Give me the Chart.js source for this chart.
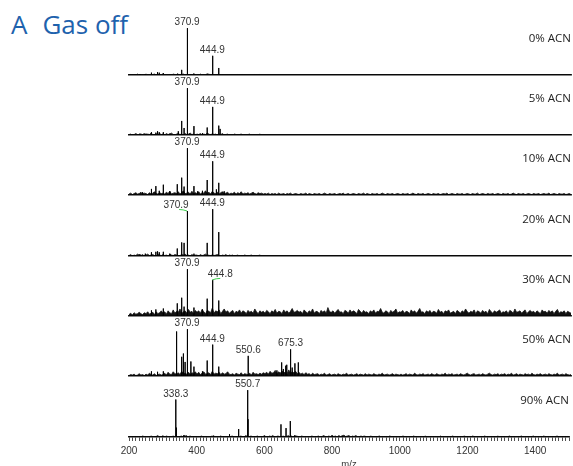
<!DOCTYPE html>
<html><head><meta charset="utf-8">
<script src="https://cdn.jsdelivr.net/npm/chart.js@4.4.1/dist/chart.umd.min.js"></script>
<style>
html,body{margin:0;padding:0;background:#fff;width:573px;height:466px;overflow:hidden;}
#wrap{position:relative;width:573px;height:466px;overflow:hidden;}
#title{position:absolute;left:11px;top:11px;font-family:"Open Sans",sans-serif;font-size:26px;line-height:26px;color:#1e62ad;white-space:nowrap;}
#title .g{margin-left:15px;}
canvas.pc{position:absolute;left:100px;}
</style></head><body>
<div id="wrap">
<div id="title"><span>A</span><span class="g">Gas off</span></div>
</div>
<script>
// ---------- DATA ----------
const panelNames = ["0% ACN", "5% ACN", "10% ACN", "20% ACN", "30% ACN", "50% ACN", "90% ACN"];

// peak m/z and relative intensity (% of panel maximum)
const mz0 = [232, 248, 266, 284, 289, 301, 343, 355, 370.9, 372.5, 391, 430, 444.9, 447, 464];
const int0 = [2, 2, 5, 6, 5, 4, 3, 11, 100, 33, 3, 3, 41, 17, 15];

const mz1 = [232, 250, 266, 279, 284, 289, 301, 320, 345, 355, 362, 370.9, 372.5, 391, 416, 430, 444.9, 447, 464, 468];
const int1 = [3, 3, 6, 5, 8, 6, 6, 3, 8, 30, 15, 100, 37, 19, 4, 16, 60, 24, 20, 13];

const mz2 = [240, 266, 279, 289, 301, 320, 342, 355, 362, 370.9, 372.5, 391, 402, 416, 430, 444.9, 447, 457, 464, 480];
const int2 = [6, 13, 19, 9, 22, 8, 23, 37, 18, 100, 30, 19, 8, 9, 32, 72, 35, 12, 26, 8];

const mz3 = [232, 248, 266, 279, 284, 289, 301, 320, 342, 355, 362, 370.9, 372.5, 391, 430, 444.9, 447, 464];
const int3 = [4, 5, 8, 9, 10, 8, 9, 5, 16, 29, 28, 96, 32, 5, 28, 100, 46, 51];

const mz4 = [266, 279, 301, 342, 355, 362, 370.9, 372.5, 391, 416, 430, 444.8, 447, 464];
const int4 = [12, 14, 16, 27, 39, 20, 100, 41, 18, 14, 37, 77, 34, 33];

const mz5 = [266, 284, 301, 340, 355, 360, 365, 370.9, 372.5, 382, 391, 416, 430, 444.9, 447, 464, 550.6, 635, 649, 654, 661, 664, 675.3, 680, 688, 698];
const int5 = [10, 9, 10, 95, 41, 48, 30, 100, 31, 31, 20, 10, 33, 67, 25, 20, 43, 12, 29, 15, 22, 24, 57, 18, 27, 29];

const mz6 = [280, 300, 338.3, 340, 362, 370, 450, 497, 524, 550.7, 551.7, 600, 649, 664, 676, 677, 690, 800, 830];
const int6 = [2, 3, 80, 20, 4, 3, 3, 6, 17, 100, 38, 3, 27, 19, 34, 18, 4, 3, 3];

// baseline "grass" (% intensity), sampled every noiseStep m/z from noiseStart
const noiseStart = 200, noiseStep = 5;
const noise0 = [0,1,0,1,0,2,0,1,1,0, 2,0,1,0,1,2,0,1,0,1,
  2,0,1,0,1,0,2,1,0,1, 0,1,2,0,1,0,1,0,2,0,
  1,0,2,0,1,0,1,2,0,1, 0,1,0,1,0,1,0,0,1,0,
  0,1,0,0,1,0,0,1,0,0, 1,0,0,0,1,0,0,1,0,0, 0];
const noise1 = [1,2,0,1,3,1,0,2,1,3, 0,2,1,4,1,0,2,1,3,1,
  2,0,3,1,2,4,1,0,2,3, 1,2,0,3,1,2,4,1,2,0,
  2,1,3,0,2,1,4,2,0,3, 1,2,0,2,1,3,0,1,2,0,
  1,0,2,1,0,1,2,0,1,0, 1,2,0,1,0,1,0,2,0,1, 0];
const noise2 = [2,4,1,3,5,2,3,6,2,4, 3,1,5,2,4,7,3,2,5,3,
  4,2,6,3,8,2,4,5,3,7, 2,5,9,3,4,6,2,8,3,5,
  3,7,2,5,4,9,3,6,2,8, 4,3,6,2,5,7,3,4,6,2,
  4,3,6,2,5,3,7,2,4,3, 5,2,4,6,3,2,5,3,4,2,
  3,2,4,1,3,2,3,1,4,2, 2,3,1,3,2,4,1,2,3,2,
  1,3,2,2,4,1,3,2,1,3, 2,2,3,1,2,4,2,1,3,2,
  2,3,1,2,3,2,4,1,2,3, 1,2,3,2,1,3,2,2,4,1,
  3,2,1,3,2,2,3,1,2,4, 2,1,3,2,2,3,1,2,3,2,
  1,3,2,2,3,1,2,4,2,1, 3,2,2,3,1,2,3,2,1,3,
  2,2,3,1,2,3,2,4,1,2, 3,2,1,3,2,2,3,1,2,3,
  2,1,3,2,2,4,1,2,3,2, 1,3,2,2,3,1,2,3,2,1,
  3,2,2,3,1,2,4,2,1,3, 2,2,3,1,2,3,2,1,3,2,
  2,3,1,2,3,2,2,4,1,2, 3,2,1,3,2,2,3,1,2,3, 1];
const noise3 = [1,3,0,2,1,4,2,1,3,0, 2,4,1,2,3,1,0,3,2,1,
  3,1,2,0,4,2,1,3,2,0, 1,3,2,4,1,2,0,3,1,2,
  2,0,3,1,2,4,1,2,0,3, 1,2,3,1,0,2,1,3,0,2,
  1,2,0,1,2,0,1,0,2,1, 0,1,2,0,1,0,1,2,0,1, 0];
const noise4 = [3,6,2,7,4,5,8,5,3,7, 5,9,4,6,8,3,9,5,7,11,
  6,9,4,11,7,5,13,6,10,8, 15,5,9,11,6,14,8,10,5,12,
  8,11,6,14,9,5,12,10,7,17, 6,11,9,13,5,10,15,8,11,6,
  9,12,5,10,8,13,6,11,9,5, 12,8,10,6,15,9,5,11,8,10,
  6,12,9,5,11,8,14,6,10,9, 5,13,8,11,6,10,16,8,9,12,
  8,10,5,13,9,6,11,8,15,6, 10,9,5,12,8,11,6,18,9,8,
  11,6,10,14,8,9,5,12,10,6, 13,8,11,9,5,14,10,6,12,8,
  9,5,11,8,13,6,10,9,16,8, 6,11,9,5,12,8,10,15,6,9,
  8,12,6,10,9,5,13,8,11,6, 10,16,8,9,5,11,8,12,6,10,
  9,6,14,8,10,5,11,9,13,6, 8,10,5,12,9,6,11,8,15,9,
  6,10,8,13,5,11,9,6,12,8, 10,5,14,9,6,11,8,10,13,6,
  9,8,11,5,12,10,6,15,8,9, 11,6,10,13,5,9,12,8,10,6,
  11,8,5,13,9,10,6,12,8,11, 5,10,14,6,9,8,11,5,10,8, 6];
const noise5 = [1,3,2,4,1,2,5,2,3,1, 4,2,6,3,2,5,1,3,4,2,
  3,6,2,8,4,3,9,5,4,7, 3,10,5,6,4,8,3,7,5,9,
  4,8,3,6,9,4,5,7,3,10, 4,6,5,8,3,7,4,5,9,4,
  3,5,2,6,4,3,7,2,5,4, 3,6,2,8,4,5,3,6,4,7,
  5,8,4,10,6,7,12,5,9,6, 11,7,8,5,13,6,9,7,10,5,
  8,4,6,3,7,4,5,2,6,3, 4,5,2,4,3,6,2,3,5,2,
  3,4,2,5,3,2,4,3,6,2, 3,4,2,3,5,2,4,3,2,5,
  2,4,3,2,5,3,2,4,3,6, 2,3,4,2,3,5,2,4,3,2,
  4,2,3,5,2,4,3,2,6,3, 2,4,3,5,2,3,4,2,5,3,
  2,5,3,2,4,3,6,2,4,3, 5,2,3,4,2,5,3,2,4,6,
  3,2,4,5,2,3,4,2,5,3, 2,4,6,3,2,4,3,5,2,4,
  3,5,2,4,3,6,2,3,5,2, 4,3,2,5,3,4,2,6,3,2,
  4,3,5,2,3,4,2,5,3,2, 4,3,6,2,3,4,2,5,3,2, 3];
const noise6 = [0,1,0,1,0,1,1,0,2,1, 0,1,0,2,1,0,1,3,0,1,
  1,0,2,1,1,0,2,1,0,1, 1,2,0,3,1,0,2,1,1,0,
  1,0,1,2,0,1,0,1,0,2, 1,0,1,0,2,1,0,1,1,0,
  1,2,0,1,1,0,2,1,0,3, 1,0,2,1,0,1,2,0,1,1,
  2,1,0,2,1,3,0,1,2,1, 0,2,1,0,3,1,2,0,1,2,
  1,0,2,1,0,1,1,0,2,1, 0,1,2,0,1,3,1,0,2,1,
  3,1,2,0,3,1,2,4,1,2, 3,0,2,1,3,1,0,2,1,2,
  1,0,1,2,0,1,0,1,2,0, 1,0,1,0,2,1,0,1,0,1,
  0,1,2,0,1,0,1,0,2,1, 0,1,0,1,0,2,0,1,1,0,
  1,0,1,0,2,0,1,1,0,1, 0,2,1,0,1,0,1,0,2,1,
  0,1,0,2,1,0,1,0,1,0, 2,1,0,1,0,1,1,0,2,0,
  1,0,1,0,1,2,0,1,0,1, 0,1,2,0,1,0,1,0,1,2,
  0,1,0,1,0,2,1,0,1,0, 1,0,1,2,0,1,0,1,0,1, 0];

const labels0 = ["370.9", "444.9"];
const labels1 = ["370.9", "444.9"];
const labels2 = ["370.9", "444.9"];
const labels3 = ["370.9", "444.9"];
const labels4 = ["370.9", "444.8"];
const labels5 = ["370.9", "444.9", "550.6", "675.3"];
const labels6 = ["338.3", "550.7"];

const xMin = 200, xMax = 1500, xMinorStep = 10, xLabelStep = 200;
const axisTitle = "m/z";

// ---------- STYLE / LAYOUT ----------
const panelTops = [15, 75, 135, 196, 256, 316, 377];
const labelNudge = [{}, {}, {}, {"370.9": -11}, {"444.8": 8}, {}, {}];
const yTop = 128;

const panels = [
  [mz0, int0, noise0, labels0], [mz1, int1, noise1, labels1], [mz2, int2, noise2, labels2],
  [mz3, int3, noise3, labels3], [mz4, int4, noise4, labels4], [mz5, int5, noise5, labels5],
  [mz6, int6, noise6, labels6]
];

const wrap = document.getElementById('wrap');

panels.forEach(([mz, inten, noise, labels], i) => {
  const bottom = i === panels.length - 1;
  const h = bottom ? 93 : 62;
  const cv = document.createElement('canvas');
  cv.className = 'pc';
  cv.width = 473; cv.height = h;
  cv.style.width = '473px'; cv.style.height = h + 'px';
  cv.style.top = panelTops[i] + 'px';
  wrap.appendChild(cv);

  const spikes = [{x: xMin, y: 0}];
  mz.forEach((m, k) => { spikes.push({x: m, y: 0}, {x: m, y: inten[k]}, {x: m, y: 0}); });
  spikes.push({x: xMax, y: 0});
  const grass = noise.map((v, k) => ({x: noiseStart + k * noiseStep, y: v}));

  const textPlugin = {
    id: 'panelText' + i,
    afterDatasetsDraw(chart) {
      const {ctx, chartArea, scales: {x, y}} = chart;
      ctx.save();
      ctx.font = '10px "Liberation Sans", Arial, sans-serif';
      ctx.fillStyle = '#333';
      ctx.textAlign = 'center';
      ctx.textBaseline = 'alphabetic';
      labels.forEach(t => {
        const m = parseFloat(t);
        let best = 0;
        mz.forEach((v, j) => { if (Math.abs(v - m) < Math.abs(mz[best] - m)) best = j; });
        const px = x.getPixelForValue(mz[best]);
        const py = y.getPixelForValue(inten[best]);
        const dx = labelNudge[i][t] || 0;
        ctx.fillText(t, px + dx, py - 3);
        if (dx) {
          ctx.strokeStyle = '#3fcf4f';
          ctx.lineWidth = 1;
          ctx.beginPath();
          ctx.moveTo(px, py);
          ctx.quadraticCurveTo(px + Math.sign(dx) * 4, py - 1.5, px + Math.sign(dx) * 8, py - 1.5);
          ctx.stroke();
        }
      });
      ctx.font = '11.5px "Open Sans", sans-serif';
      ctx.fillStyle = '#222';
      ctx.textAlign = 'right';
      ctx.fillText(panelNames[i], chartArea.right, chartArea.bottom - 33);
      ctx.restore();
    }
  };

  new Chart(cv, {
    type: 'line',
    data: {
      datasets: [
        {data: spikes, borderColor: '#000', borderWidth: 1, pointRadius: 0, tension: 0,
         fill: false, borderJoinStyle: 'bevel'},
        {data: grass, borderColor: '#111', borderWidth: 0.8, backgroundColor: '#111',
         pointRadius: 0, tension: 0, fill: 'origin', borderJoinStyle: 'bevel'}
      ]
    },
    options: {
      responsive: false, animation: false, events: [],
      layout: {padding: {left: 29, right: 2, top: 0, bottom: bottom ? 0 : 2}},
      scales: {
        x: {
          type: 'linear', min: xMin, max: xMax, display: true,
          afterFit: s => { s.height = bottom ? 33 : 0; },
          border: {display: true, color: '#111', width: 1.5},
          grid: {display: bottom, drawOnChartArea: false, drawTicks: bottom, tickLength: 4, color: '#222', lineWidth: 0.8},
          ticks: {
            display: bottom, stepSize: xMinorStep, maxTicksLimit: 500, autoSkip: false,
            maxRotation: 0, minRotation: 0, padding: 4, color: '#333',
            font: {family: '"Liberation Sans", Arial, sans-serif', size: 10},
            callback: v => (Math.round(v) % xLabelStep === 0 ? String(Math.round(v)) : '')
          },
          title: {display: bottom, text: axisTitle, padding: {top: 1, bottom: 0}, color: '#333',
                  font: {family: '"Liberation Sans", Arial, sans-serif', size: 9.5}}
        },
        y: {display: false, min: 0, max: yTop}
      },
      plugins: {legend: {display: false}, tooltip: {enabled: false}}
    },
    plugins: [textPlugin]
  });
});
</script>
</body></html>
